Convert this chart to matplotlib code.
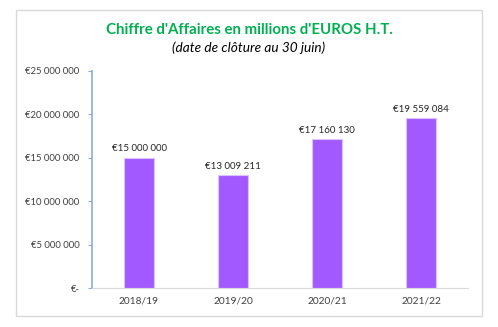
import matplotlib
matplotlib.use("Agg")
import matplotlib.pyplot as plt
from matplotlib.patches import Rectangle

categories = ["2018/19", "2019/20", "2020/21", "2021/22"]
values = [15000000, 13009211, 17160130, 19559084]
yticks = [0, 5000000, 10000000, 15000000, 20000000, 25000000]

def fmt(v):
    if v == 0:
        return "€-"
    return "€" + f"{v:,}".replace(",", " ")

plt.rcParams['font.family'] = ['Lato', 'DejaVu Sans']

fig = plt.figure(figsize=(4.98, 3.27), dpi=100)
fig.patch.set_facecolor("white")
fig.patches.append(Rectangle((16/498, 1-316/327), (482-16)/498, (316-10)/327,
                             transform=fig.transFigure, fill=False,
                             edgecolor="#d9d9d9", linewidth=1))

ax = fig.add_axes([92/498, 1-288/327, (468-92)/498, (288-71)/327])
x = range(len(categories))
bars = ax.bar(x, values, width=0.32, color="#A259FF", edgecolor="#D9C2FF", linewidth=0.8)
for xi, v in zip(x, values):
    ax.text(xi, v + 500000, fmt(v), ha="center", va="bottom", fontsize=7, color="#262626")

ax.set_ylim(0, 25000000)
ax.set_xlim(-0.5, 3.5)
ax.set_yticks(yticks)
ax.set_yticklabels([fmt(v) for v in yticks], fontsize=6.8, color="#404040")
ax.set_xticks(list(x))
ax.set_xticklabels(categories, fontsize=7.3, color="#404040")
for s in ["top", "right"]:
    ax.spines[s].set_visible(False)
ax.spines["left"].set_color("#8FAADC")
ax.spines["left"].set_linewidth(1.2)
ax.spines["bottom"].set_color("#d9d9d9")
ax.tick_params(axis="y", length=3, color="#8FAADC", pad=6)
ax.tick_params(axis="x", length=0, pad=6)

fig.text(0.5, 1-30/327, "Chiffre d'Affaires en millions d'EUROS H.T.", ha="center", va="center",
         fontsize=10.8, fontweight="bold", color="#00B050")
fig.text(0.5, 1-48/327, "(date de clôture au 30 juin)", ha="center", va="center",
         fontsize=9.8, style="italic", color="#000000")

fig.savefig("out.png", dpi=100)
